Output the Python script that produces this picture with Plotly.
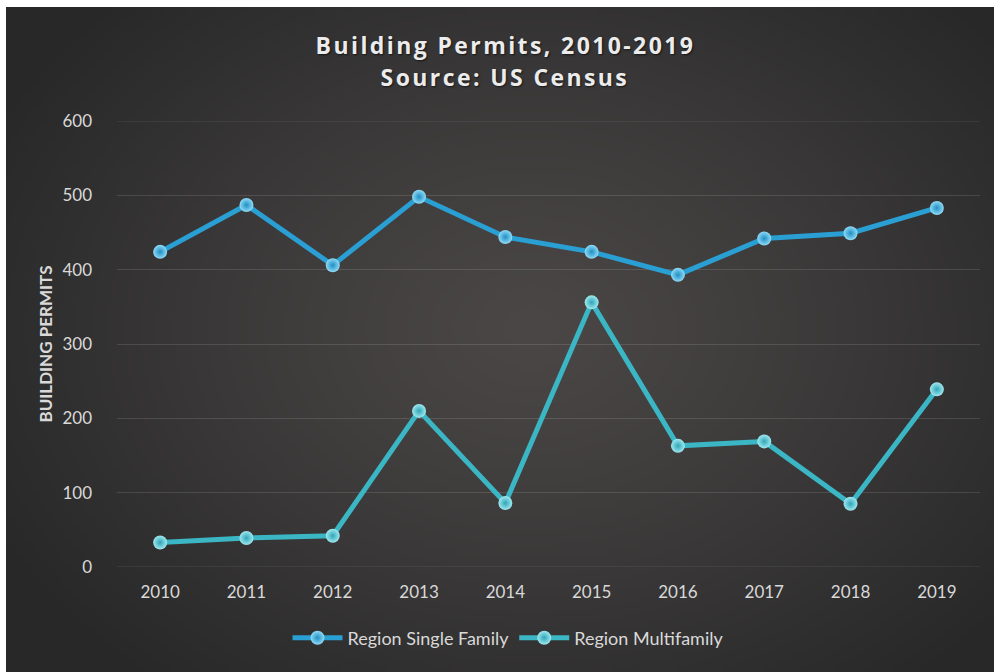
import base64
import struct
import zlib

import numpy as np
import plotly.graph_objects as go

# ---- data -------------------------------------------------------------
years = ["2010", "2011", "2012", "2013", "2014", "2015", "2016", "2017", "2018", "2019"]
single_family = [424, 487, 406, 498, 444, 424, 393, 442, 449, 483]
multifamily = [33, 39, 42, 210, 86, 356, 163, 169, 85, 239]
y_ticks = [0, 100, 200, 300, 400, 500, 600]

# ---- layout geometry (pixels) ----------------------------------------
W, H = 994, 672
ML, MR, MT, MB = 117, 14, 121, 105
PW, PH = W - ML - MR, H - MT - MB


def px_to_paper_x(px):
    return (px - ML) / PW


def px_to_paper_y(py):
    return (H - MB - py) / PH


# ---- radial dark background rendered as a small PNG ------------------
def radial_png(w, h):
    yy, xx = np.mgrid[0:h, 0:w].astype(float)
    cx, cy = 0.53 * w, 0.48 * h
    r = np.sqrt(((xx - cx) / (0.62 * w)) ** 2 + ((yy - cy) / (0.70 * h)) ** 2)
    t = np.clip(r, 0, 1) ** 1.15
    inner = np.array([75, 71, 71], float)
    outer = np.array([40, 40, 40], float)
    img = inner[None, None, :] * (1 - t[..., None]) + outer[None, None, :] * t[..., None]
    img = img.astype(np.uint8)
    raw = b"".join(b"\x00" + row.tobytes() for row in img)

    def chunk(tag, data):
        c = struct.pack(">I", len(data)) + tag + data
        return c + struct.pack(">I", zlib.crc32(tag + data) & 0xFFFFFFFF)

    png = b"\x89PNG\r\n\x1a\n"
    png += chunk(b"IHDR", struct.pack(">IIBBBBB", w, h, 8, 2, 0, 0, 0))
    png += chunk(b"IDAT", zlib.compress(raw, 9))
    png += chunk(b"IEND", b"")
    return "data:image/png;base64," + base64.b64encode(png).decode()


bg_src = radial_png(247, 166)

SF_COLOR = "#2a9fd4"
MF_COLOR = "#3bb6c4"
TEXT = "#d9d9d9"
GRID = "rgba(255,255,255,0.12)"
FONT = "Lato, 'Open Sans', sans-serif"
TITLE_FONT = "'Open Sans', Lato, sans-serif"
title_font = dict(size=23, color="#ececec", family=TITLE_FONT, weight=700,
                  shadow="1px 1px 2px rgba(0,0,0,0.6)")

fig = go.Figure()

fig.add_trace(go.Scatter(
    x=years, y=single_family, name="Region Single Family",
    mode="lines+markers",
    line=dict(color=SF_COLOR, width=5),
    marker=dict(size=14, color="#8fdaf5",
                gradient=dict(type="radial", color="#1f8fc4"),
                line=dict(width=0)),
))
fig.add_trace(go.Scatter(
    x=years, y=multifamily, name="Region Multifamily",
    mode="lines+markers",
    line=dict(color=MF_COLOR, width=5),
    marker=dict(size=14, color="#9fe8f0",
                gradient=dict(type="radial", color="#2fa6b6"),
                line=dict(width=0)),
))

# outer gridlines at the bottom and top of the value range
edge_lines = [
    dict(type="line", xref="paper", yref="y", x0=0, x1=1,
         y0=v, y1=v, line=dict(color=GRID, width=1), layer="below")
    for v in (y_ticks[0], y_ticks[-1])
]

fig.update_layout(
    width=W, height=H,
    margin=dict(l=ML, r=MR, t=MT, b=MB),
    paper_bgcolor="white",
    plot_bgcolor="rgba(0,0,0,0)",
    font=dict(family=FONT, color=TEXT, size=15),
    showlegend=True,
    legend=dict(
        orientation="h", x=px_to_paper_x(508), xanchor="center",
        y=px_to_paper_y(638), yanchor="middle",
        font=dict(size=18, color=TEXT), itemwidth=50,
        bgcolor="rgba(0,0,0,0)",
    ),
    images=[dict(
        source=bg_src, xref="paper", yref="paper",
        x=px_to_paper_x(6), y=px_to_paper_y(7),
        sizex=(W - 6) / PW, sizey=(H - 7) / PH,
        xanchor="left", yanchor="top", sizing="stretch", layer="below",
    )],
    shapes=edge_lines,
    annotations=[
        dict(text="Building Permits, 2010-2019", xref="paper", yref="paper",
             x=px_to_paper_x(505), y=px_to_paper_y(45), xanchor="center", yanchor="middle",
             showarrow=False, font=title_font),
        dict(text="Source: US Census", xref="paper", yref="paper",
             x=px_to_paper_x(505), y=px_to_paper_y(77), xanchor="center", yanchor="middle",
             showarrow=False, font=title_font),
    ],
)

fig.update_xaxes(
    type="category", range=[-0.5, len(years) - 0.5],
    showgrid=False, showline=False, zeroline=False,
    ticks="", ticklabelstandoff=13,
    tickfont=dict(size=17, color=TEXT),
)
fig.update_yaxes(
    range=[0, 600], tickvals=y_ticks,
    showgrid=True, gridcolor=GRID, gridwidth=1,
    zeroline=False, showline=False, ticks="", ticklabelstandoff=24,
    tickfont=dict(size=17, color=TEXT),
    title=dict(text="<b>BUILDING PERMITS</b>", standoff=5,
               font=dict(size=17, color=TEXT)),
)

# widen the tracking of the two title lines
spacing_js = """
document.querySelectorAll('.annotation-text').forEach(function (el) {
  el.setAttribute('letter-spacing', '2.4px');
});
"""

fig.write_html("out.html", post_script=spacing_js)
